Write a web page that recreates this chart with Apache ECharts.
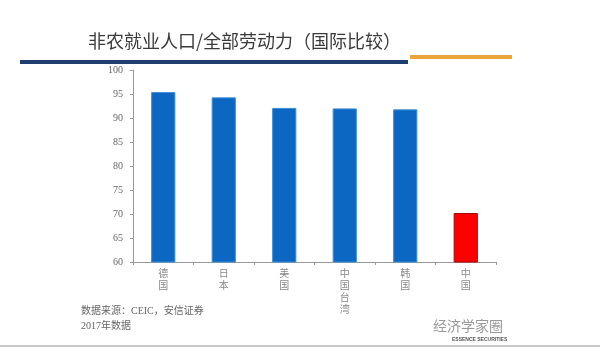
<!DOCTYPE html>
<html style="height: 100%">
<head>
<meta charset="utf-8">
<script src="https://cdn.jsdelivr.net/npm/echarts@6/dist/echarts.min.js"></script>
</head>
<body style="height: 100%; margin: 0; background: #fff">
<div id="container" style="width: 600px; height: 352px"></div>
<script type="text/javascript">
var countries = ['德国', '日本', '美国', '中国台湾', '韩国', '中国'];
var share = [95.4, 94.3, 92.1, 92.0, 91.8, 70.2];
var yTicks = [60, 100, 5];

var dom = document.getElementById("container");
var myChart = echarts.init(dom);
var serif = '"Liberation Serif", "Noto Sans CJK SC", serif';

var option = {
    animation: false,
    title: {
        text: '非农就业人口/全部劳动力（国际比较）',
        left: 83,
        top: 27,
        textStyle: {
            fontFamily: '"Noto Sans CJK SC", sans-serif',
            fontSize: 18,
            fontWeight: 'normal',
            color: '#3a3a3a'
        }
    },
    graphic: [
        { type: 'rect', shape: { x: 20, y: 60, width: 388, height: 4 }, style: { fill: '#1f3e6e' } },
        { type: 'rect', shape: { x: 410, y: 55, width: 102, height: 4 }, style: { fill: '#e9a43c' } },
        { type: 'rect', shape: { x: 0, y: 345, width: 600, height: 2 }, style: { fill: '#c8c8c8' } },
        {
            type: 'text', left: 81, top: 306,
            style: { text: '数据来源：CEIC，安信证券', font: '10px ' + serif, fill: '#666' }
        },
        {
            type: 'text', left: 81, top: 321,
            style: { text: '2017年数据', font: '10px ' + serif, fill: '#666' }
        },
        {
            type: 'text', left: 452, top: 337,
            style: { text: 'ESSENCE SECURITIES', font: 'bold 5px sans-serif', fill: '#555' }
        },
        {
            type: 'text', left: 432, top: 318,
            style: { text: '经济学家圈', font: '14px "Noto Sans CJK SC", sans-serif', fill: '#999', stroke: '#fff', lineWidth: 2 }
        }
    ],
    grid: {
        left: 133,
        right: 104,
        top: 70,
        bottom: 90
    },
    xAxis: {
        type: 'category',
        data: countries,
        axisLine: { lineStyle: { color: '#999' } },
        axisTick: { show: true, length: 3, lineStyle: { color: '#999' } },
        axisLabel: {
            color: '#888',
            fontFamily: serif,
            fontSize: 10,
            lineHeight: 12,
            margin: 6,
            formatter: function (v) { return v.split('').join('\n'); }
        }
    },
    yAxis: {
        type: 'value',
        min: yTicks[0],
        max: yTicks[1],
        interval: yTicks[2],
        axisLine: { show: true, lineStyle: { color: '#999' } },
        axisTick: { show: true, length: 3, lineStyle: { color: '#999' } },
        splitLine: { show: false },
        axisLabel: {
            color: '#666',
            fontFamily: serif,
            fontSize: 10,
            margin: 10
        }
    },
    series: [{
        type: 'bar',
        barWidth: '40%',
        data: share.map(function (v, i) {
            var isChina = i === share.length - 1;
            return {
                value: v,
                itemStyle: {
                    color: isChina ? '#ff0000' : '#0b67c2',
                    borderColor: isChina ? '#b00000' : '#3d8fd8',
                    borderWidth: 1
                }
            };
        })
    }]
};
myChart.setOption(option);
</script>
</body>
</html>
